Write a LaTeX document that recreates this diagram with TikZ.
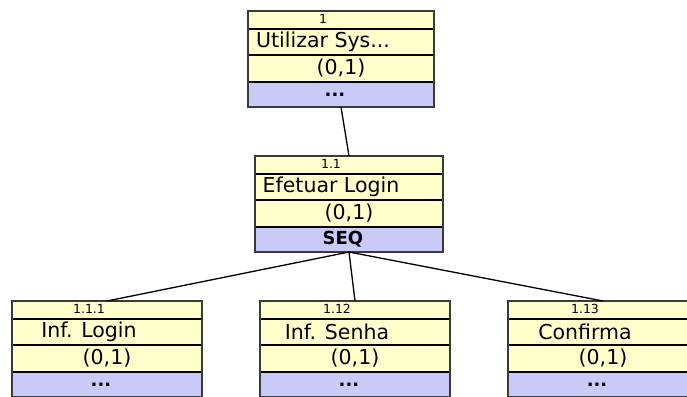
\documentclass[tikz,border=0pt]{standalone}
\usepackage{fontspec}
\setmainfont{DejaVu Sans}
\usepackage{xcolor}
\usetikzlibrary{positioning}
\definecolor{rowyellow}{HTML}{FFFFCC}
\definecolor{oplilac}{HTML}{CACAF8}
\definecolor{framegray}{HTML}{3A3A3A}
\newcommand{\tripledot}{...}

\begin{document}
\begin{tikzpicture}[x=1pt,y=-1pt,
    rowbox/.style={inner sep=0pt,outer sep=0pt,anchor=north west,fill=rowyellow},
    numrow/.style={rowbox,minimum height=18},
    namerow/.style={rowbox,minimum height=26},
    cardrow/.style={rowbox,minimum height=27},
    oprow/.style={rowbox,minimum height=25,fill=oplilac},
    sepline/.style={black,line width=2.6pt},
    frameline/.style={framegray,line width=1.3pt},
    link/.style={black,line width=1.3pt}]
    \clip (0,0) rectangle (687,396);
    \fill[white] (0,0) rectangle (687,396);
    \foreach \id/\x/\y/\w/\num/\txt/\op in {
        t/248/11/186/1/Utilizar Sys\tripledot/\textbf{\tripledot},
        m/255/156/188/1.1/Efetuar Login/\textbf{SEQ},
        a/12/301/190/1.1.1/Inf. Login/\textbf{\tripledot},
        b/260/301/190/1.12/Inf. Senha/\textbf{\tripledot},
        c/508/301/190/1.13/Confirma/\textbf{\tripledot}}{
      \node[numrow,minimum width=\w] (\id-n) at (\x,\y) {};
      \node[namerow,minimum width=\w] (\id-l) at (\id-n.south west) {};
      \node[cardrow,minimum width=\w] (\id-c) at (\id-l.south west) {};
      \node[oprow,minimum width=\w] (\id-o) at (\id-c.south west) {};
      \node[font=\fontsize{12.5}{14}\selectfont] (\id-nt) at ([xshift=-18,yshift=1]\id-n.center) {\num};
      \node[font=\fontsize{20.5}{24}\selectfont] (\id-lt) at ([xshift=-18]\id-l.center) {\txt};
      \node[font=\fontsize{20.5}{24}\selectfont] (\id-ct) at (\id-c.center) {(0,1)};
      \node[font=\fontsize{18}{22}\selectfont] (\id-ot) at ([xshift=-6]\id-o.center) {\op};
      \draw[sepline] (\id-n.south west) -- (\id-n.south east)
                     (\id-l.south west) -- (\id-l.south east)
                     (\id-c.south west) -- (\id-c.south east);
      \draw[frameline] (\id-n.north west) rectangle (\id-o.south east);
    }
    \draw[link] (t-o.south) -- (m-n.north);
    \foreach \k in {a,b,c}{\draw[link] (m-o.south) -- (\k-n.north);}
\end{tikzpicture}
\end{document}
